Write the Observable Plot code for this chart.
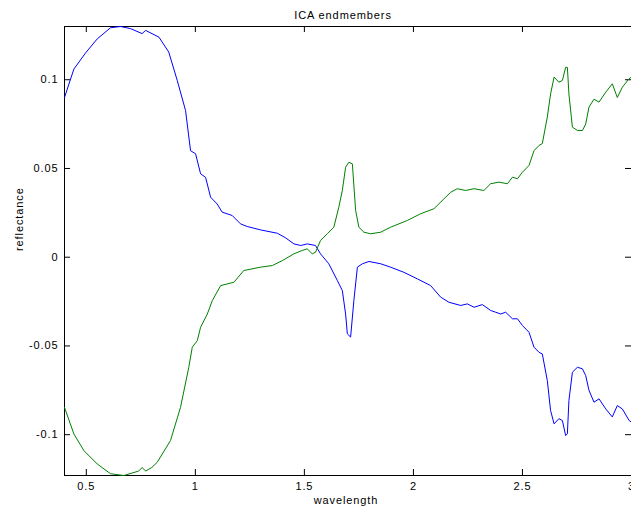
<!DOCTYPE html>
<html><head><meta charset="utf-8">
<script src="https://cdn.jsdelivr.net/npm/d3@7"></script>
<script src="https://cdn.jsdelivr.net/npm/@observablehq/plot@0.6"></script>
<style>html,body{margin:0;padding:0;background:#fff;overflow:hidden} svg{display:block}</style>
</head><body><div id="chart"></div>
<script>
// Blue endmember
const blueWl = [0.400,0.443,0.496,0.550,0.611,0.657,0.703,0.756,0.772,0.833,0.878,0.917,0.955,0.978,1.001,1.024,1.047,1.070,1.100,1.123,1.169,1.207,1.238,1.299,1.376,1.414,1.452,1.483,1.513,1.551,1.574,1.612,1.651,1.674,1.689,1.697,1.712,1.727,1.743,1.766,1.796,1.850,1.895,1.956,2.018,2.079,2.125,2.163,2.217,2.247,2.278,2.316,2.354,2.377,2.400,2.423,2.454,2.477,2.500,2.530,2.553,2.576,2.591,2.614,2.629,2.645,2.667,2.683,2.698,2.706,2.713,2.729,2.752,2.775,2.790,2.805,2.828,2.851,2.882,2.912,2.935,2.958,2.989,3.000];
const blueVal = [0.090,0.106,0.115,0.123,0.1293,0.130,0.1288,0.126,0.1278,0.124,0.1156,0.0996,0.0827,0.060,0.0583,0.047,0.045,0.0338,0.030,0.0254,0.0235,0.0188,0.0173,0.0154,0.0135,0.0109,0.0075,0.0066,0.0075,0.0066,0.0019,-0.0037,-0.0131,-0.0188,-0.032,-0.0432,-0.045,-0.0244,-0.0056,-0.0037,-0.0024,-0.0037,-0.0056,-0.0085,-0.0122,-0.016,-0.0225,-0.0254,-0.0272,-0.0263,-0.0282,-0.0267,-0.030,-0.031,-0.032,-0.031,-0.0347,-0.0347,-0.0385,-0.0423,-0.0507,-0.0536,-0.0545,-0.0695,-0.0864,-0.0939,-0.091,-0.092,-0.1005,-0.0995,-0.0808,-0.0648,-0.062,-0.0629,-0.0667,-0.075,-0.0817,-0.0798,-0.0855,-0.090,-0.0836,-0.0855,-0.092,-0.093];
// Green endmember
const greenWl = [0.400,0.443,0.489,0.550,0.611,0.672,0.740,0.756,0.772,0.800,0.825,0.886,0.932,0.970,0.986,1.009,1.024,1.055,1.078,1.116,1.177,1.222,1.299,1.353,1.399,1.452,1.490,1.513,1.536,1.551,1.574,1.605,1.635,1.658,1.674,1.689,1.704,1.720,1.735,1.750,1.773,1.804,1.850,1.895,1.972,2.033,2.094,2.140,2.171,2.201,2.239,2.278,2.323,2.354,2.392,2.431,2.454,2.477,2.500,2.530,2.553,2.576,2.591,2.614,2.629,2.645,2.667,2.683,2.698,2.706,2.713,2.729,2.752,2.775,2.790,2.805,2.828,2.851,2.882,2.912,2.935,2.958,2.989,3.000];
const greenVal = [-0.0846,-0.0996,-0.109,-0.1165,-0.122,-0.123,-0.1205,-0.1185,-0.1205,-0.1185,-0.1156,-0.1033,-0.0846,-0.062,-0.0507,-0.047,-0.0395,-0.032,-0.0244,-0.016,-0.0141,-0.0075,-0.0056,-0.0047,-0.0019,0.0019,0.0038,0.0047,0.0019,0.0028,0.0094,0.0132,0.0169,0.0282,0.0376,0.0507,0.0535,0.0526,0.0263,0.0169,0.0141,0.0132,0.0141,0.0169,0.0207,0.0245,0.0273,0.0329,0.0366,0.0386,0.0376,0.0386,0.0376,0.0414,0.0423,0.0414,0.0451,0.0442,0.0479,0.0517,0.060,0.063,0.064,0.079,0.092,0.1015,0.0986,0.0996,0.107,0.107,0.092,0.0733,0.0714,0.0714,0.075,0.0846,0.089,0.0874,0.093,0.0977,0.090,0.0958,0.1006,0.1015];

const xDomain = [0.4, 3.0];
const yDomain = [-0.123, 0.13];
const xTicks = [0.5, 1, 1.5, 2, 2.5, 3];
const xTickLabels = ["0.5", "1", "1.5", "2", "2.5", "3"];
const yTicks = [-0.1, -0.05, 0, 0.05, 0.1];
const yTickLabels = ["-0.1", "-0.05", "0", "0.05", "0.1"];
const titleText = "ICA endmembers";
const xLabelText = "wavelength";
const yLabelText = "reflectance";

const W = 631, H = 514, MT = 26, MB = 39, ML = 64, MR = 0, TICK = 6;
const frameW = W - ML - MR, frameH = H - MT - MB;
const tickY = (yDomain[1] - yDomain[0]) * TICK / frameH;
const tickX = (xDomain[1] - xDomain[0]) * TICK / frameW;

const blue = blueWl.map((w, i) => ({w, v: blueVal[i]}));
const green = greenWl.map((w, i) => ({w, v: greenVal[i]}));
const fx = d => xTickLabels[xTicks.indexOf(d)];
const fy = d => yTickLabels[yTicks.indexOf(d)];

const chart = Plot.plot({
  width: W, height: H,
  marginTop: MT, marginBottom: MB, marginLeft: ML, marginRight: MR,
  style: {fontFamily: "'Liberation Sans', Arial, sans-serif", fontSize: "11px", letterSpacing: "0.9px", color: "#000", background: "#fff"},
  x: {domain: xDomain},
  y: {domain: yDomain},
  marks: [
    Plot.ruleX([xDomain[0]], {stroke: "#000"}),
    Plot.ruleY(yDomain, {stroke: "#000"}),
    Plot.axisX(xTicks, {anchor: "bottom", tickSize: 0, tickPadding: 7, tickFormat: fx, label: null}),
    Plot.axisY(yTicks, {anchor: "left", tickSize: 0, tickPadding: 6, tickFormat: fy, label: null}),
    // inward ticks on all four sides
    Plot.ruleX(xTicks, {x: d => d, y1: () => yDomain[0], y2: () => yDomain[0] + tickY, stroke: "#000", strokeWidth: 1}),
    Plot.ruleX(xTicks, {x: d => d, y1: () => yDomain[1] - tickY, y2: () => yDomain[1], stroke: "#000", strokeWidth: 1}),
    Plot.ruleY(yTicks, {y: d => d, x1: () => xDomain[0], x2: () => xDomain[0] + tickX, stroke: "#000", strokeWidth: 1}),
    Plot.ruleY(yTicks, {y: d => d, x1: () => xDomain[1] - tickX, x2: () => xDomain[1], stroke: "#000", strokeWidth: 1}),
    Plot.line(blue, {x: "w", y: "v", stroke: "#0000ff", strokeWidth: 1}),
    Plot.line(green, {x: "w", y: "v", stroke: "#008000", strokeWidth: 1}),
    Plot.text([titleText], {text: d => d, frameAnchor: "top", lineAnchor: "middle", dy: -11, dx: -5, fill: "#000"}),
    Plot.text([xLabelText], {text: d => d, frameAnchor: "bottom", lineAnchor: "middle", dy: 25, dx: -2, fill: "#000"}),
    Plot.text([yLabelText], {text: d => d, frameAnchor: "left", lineAnchor: "middle", dx: -45, rotate: -90, fill: "#000"})
  ]
});
document.getElementById("chart").appendChild(chart);
</script>
</body></html>
